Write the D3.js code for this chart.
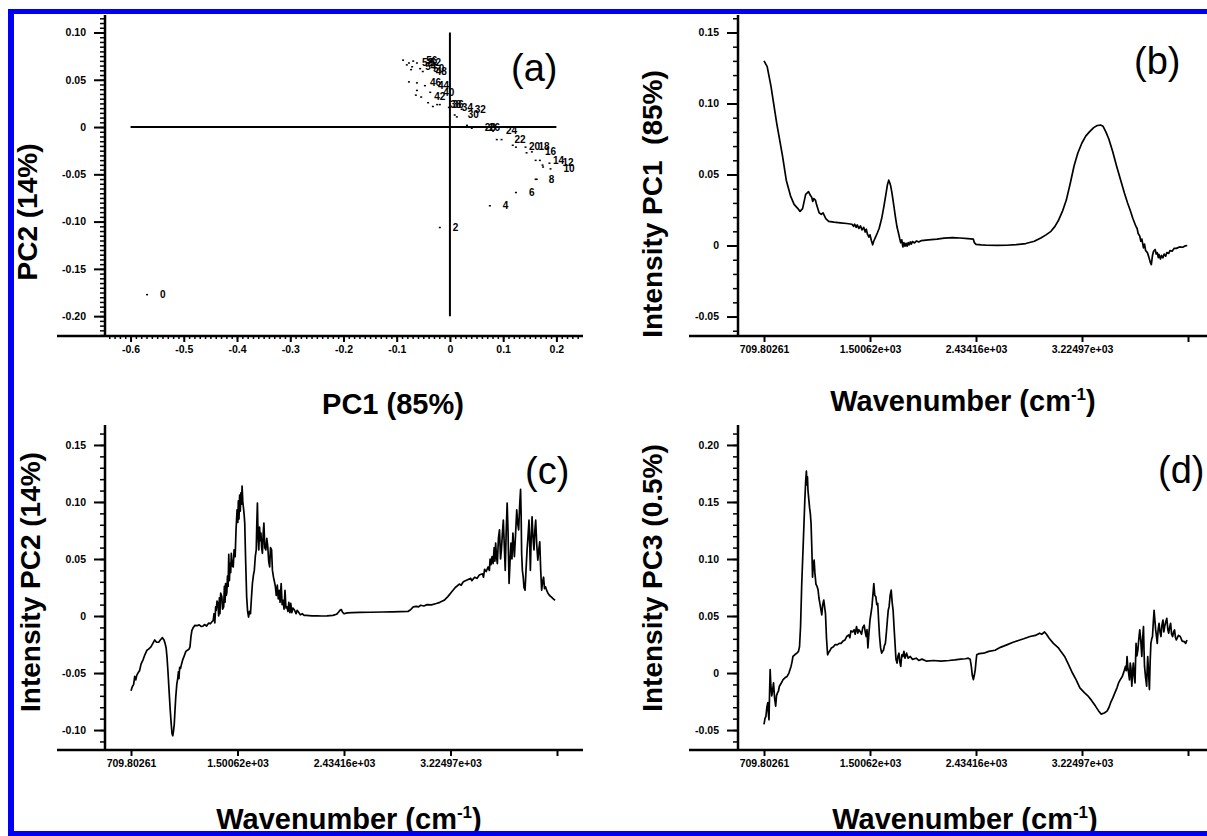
<!DOCTYPE html>
<html>
<head>
<meta charset="utf-8">
<script src="https://cdn.jsdelivr.net/npm/d3@7"></script>
<style>
body { margin: 0; background: #fff; }
text { font-family: "Liberation Sans", Arial, sans-serif; }
</style>
</head>
<body>
<div id="chart"></div>
<script>
// (a) PCA scores, labels only on the even samples
var scoreLabels = ["0","2","4","6","8","10","12","14","16","18","20","22","24","26","28","30","32","34","36","38","40","42","44","46","48","50","52","54","56","58",
  "","","","","","","","","","","","","","","","",""];
var pc1Scores = [-0.569,-0.019,0.075,0.124,0.161,0.189,0.187,0.169,0.154,0.142,0.124,0.097,0.081,0.049,0.041,0.009,0.022,-0.002,-0.019,-0.024,-0.037,-0.054,-0.047,-0.062,-0.051,-0.056,-0.062,-0.071,-0.069,-0.077,
  -0.088,-0.081,-0.073,-0.077,-0.062,-0.064,-0.041,-0.032,0.013,0.032,0.088,0.118,0.144,0.161,0.174,0.175,0.163];
var pc2Scores = [-0.177,-0.106,-0.083,-0.069,-0.055,-0.044,-0.038,-0.035,-0.026,-0.021,-0.021,-0.013,-0.004,0.000,-0.001,0.013,0.019,0.021,0.024,0.024,0.037,0.032,0.044,0.047,0.059,0.062,0.068,0.064,0.070,0.068,
  0.071,0.066,0.061,0.048,0.039,0.034,0.026,0.022,0.011,0.002,-0.013,-0.019,-0.027,-0.035,-0.040,-0.042,-0.055];

var waveTicks = ["709.80261", "1.50062e+03", "2.43416e+03", "3.22497e+03", ""];

// loadings: [position on the wavenumber axis (tick index), intensity]
var pc1Loadings = [[0,0.130],[0.03,0.126],[0.066,0.112],[0.12,0.086],[0.175,0.063],[0.21,0.046],[0.25,0.035],[0.284,0.029],[0.32,0.026],[0.34,0.024],[0.364,0.026],[0.393,0.036],[0.42,0.038],[0.44,0.035],[0.45,0.034],[0.46,0.031],[0.47,0.033],[0.485,0.032],[0.495,0.029],[0.52,0.023],[0.54,0.022],[0.557,0.023],[0.583,0.019],[0.61,0.017],[0.66,0.0165],[0.72,0.016],[0.78,0.0155],[0.83,0.0150],[0.845,0.0135],[0.855,0.0150],[0.87,0.0128],[0.88,0.0145],[0.895,0.0120],[0.91,0.0138],[0.925,0.0110],[0.94,0.0128],[0.955,0.0095],[0.965,0.0115],[0.976,0.0080],[0.99,0.0060],[1.0,0.0075],[1.013,0.0035],[1.025,0.0005],[1.035,0.0030],[1.05,0.0055],[1.07,0.009],[1.086,0.012],[1.11,0.019],[1.13,0.027],[1.15,0.036],[1.165,0.043],[1.177,0.046],[1.187,0.044],[1.195,0.042],[1.205,0.038],[1.213,0.034],[1.225,0.028],[1.24,0.020],[1.255,0.013],[1.268,0.009],[1.28,0.005],[1.29,0.002],[1.3,0.004],[1.31,-0.001],[1.32,0.002],[1.33,-0.0005],[1.34,0.0015],[1.35,-0.0005],[1.36,0.002],[1.37,0.0005],[1.38,0.0025],[1.39,0.001],[1.4,0.0028],[1.42,0.0018],[1.44,0.0032],[1.46,0.0025],[1.486,0.0035],[1.55,0.0040],[1.632,0.0045],[1.7,0.0052],[1.778,0.0055],[1.85,0.0053],[1.924,0.0048],[1.975,0.0045],[1.985,0.0020],[2.0,0.0008],[2.05,0.0004],[2.105,0.0002],[2.2,0.0001],[2.288,0.0002],[2.38,0.0006],[2.47,0.0014],[2.55,0.0030],[2.616,0.0055],[2.66,0.0075],[2.707,0.0100],[2.745,0.0135],[2.78,0.018],[2.815,0.024],[2.852,0.032],[2.89,0.044],[2.925,0.056],[2.96,0.065],[2.998,0.072],[3.035,0.077],[3.07,0.080],[3.11,0.083],[3.144,0.0845],[3.175,0.0848],[3.198,0.084],[3.225,0.080],[3.253,0.075],[3.29,0.066],[3.326,0.056],[3.365,0.046],[3.4,0.037],[3.43,0.030],[3.454,0.025],[3.48,0.019],[3.508,0.0136],[3.52,0.0120],[3.53,0.0085],[3.545,0.0066],[3.555,0.0030],[3.565,0.0045],[3.58,-0.0016],[3.59,0.0010],[3.6,-0.0035],[3.617,-0.005],[3.63,-0.0080],[3.645,-0.0120],[3.654,-0.0134],[3.665,-0.0070],[3.675,-0.0040],[3.69,-0.0028],[3.70,-0.0060],[3.71,-0.0050],[3.72,-0.0085],[3.727,-0.0063],[3.74,-0.0095],[3.75,-0.0070],[3.763,-0.0087],[3.775,-0.0060],[3.79,-0.0075],[3.8,-0.0050],[3.818,-0.0055],[3.83,-0.0035],[3.85,-0.0040],[3.87,-0.0020],[3.89,-0.0020],[3.92,-0.0010],[3.95,-0.0012],[3.975,-0.0002],[3.993,0.0]];

var pc2Loadings = [[0,-0.0656],[0.012,-0.062],[0.025,-0.060],[0.035,-0.053],[0.045,-0.056],[0.054,-0.052],[0.065,-0.050],[0.08,-0.048],[0.095,-0.042],[0.115,-0.038],[0.13,-0.034],[0.15,-0.030],[0.165,-0.029],[0.187,-0.027],[0.205,-0.024],[0.223,-0.021],[0.24,-0.023],[0.26,-0.023],[0.275,-0.021],[0.295,-0.019],[0.31,-0.021],[0.32,-0.024],[0.33,-0.028],[0.338,-0.036],[0.348,-0.050],[0.356,-0.063],[0.368,-0.082],[0.378,-0.095],[0.385,-0.103],[0.392,-0.105],[0.399,-0.101],[0.406,-0.095],[0.413,-0.083],[0.42,-0.0715],[0.43,-0.060],[0.44,-0.054],[0.445,-0.049],[0.45,-0.055],[0.457,-0.045],[0.465,-0.046],[0.475,-0.042],[0.487,-0.038],[0.5,-0.035],[0.515,-0.031],[0.53,-0.030],[0.545,-0.029],[0.554,-0.027],[0.563,-0.018],[0.572,-0.0126],[0.585,-0.010],[0.6,-0.0082],[0.62,-0.0085],[0.64,-0.0078],[0.66,-0.0092],[0.673,-0.009],[0.69,-0.0075],[0.71,-0.0088],[0.73,-0.0062],[0.745,-0.0068],[0.76,-0.0050],[0.772,-0.0038],[0.78,0.002],[0.787,-0.006],[0.795,0.008],[0.8,0.005],[0.808,0.013],[0.817,0.011],[0.823,0.000],[0.83,0.016],[0.835,0.002],[0.842,0.020],[0.853,0.017],[0.86,0.006],[0.87,0.008],[0.877,0.026],[0.883,0.012],[0.888,0.0285],[0.895,0.018],[0.9,0.021],[0.906,0.035],[0.912,0.026],[0.918,0.054],[0.924,0.031],[0.93,0.046],[0.936,0.038],[0.942,0.055],[0.95,0.044],[0.96,0.043],[0.968,0.058],[0.978,0.052],[0.986,0.075],[0.996,0.093],[1.003,0.082],[1.008,0.101],[1.014,0.085],[1.02,0.106],[1.026,0.092],[1.032,0.108],[1.038,0.098],[1.043,0.114],[1.05,0.100],[1.058,0.093],[1.063,0.088],[1.068,0.0815],[1.076,0.050],[1.086,0.0168],[1.095,0.004],[1.104,-0.0009],[1.113,0.004],[1.122,0.002],[1.131,0.016],[1.14,0.0285],[1.15,0.036],[1.158,0.040],[1.167,0.052],[1.176,0.058],[1.181,0.080],[1.187,0.099],[1.193,0.070],[1.2,0.058],[1.207,0.078],[1.214,0.066],[1.22,0.0726],[1.227,0.060],[1.234,0.055],[1.241,0.072],[1.248,0.0815],[1.256,0.060],[1.266,0.058],[1.275,0.068],[1.284,0.061],[1.293,0.048],[1.302,0.043],[1.31,0.060],[1.32,0.058],[1.328,0.040],[1.338,0.034],[1.347,0.030],[1.356,0.0256],[1.364,0.018],[1.374,0.027],[1.383,0.015],[1.392,0.0226],[1.4,0.012],[1.41,0.0285],[1.419,0.010],[1.428,0.0138],[1.437,0.006],[1.446,0.0226],[1.455,0.007],[1.464,0.008],[1.474,0.004],[1.482,0.012],[1.492,0.003],[1.5,0.011],[1.51,0.003],[1.52,0.007],[1.536,0.005],[1.55,0.002],[1.56,0.005],[1.572,0.0035],[1.59,0.001],[1.608,0.002],[1.625,0.0005],[1.644,0.0006],[1.7,0.0001],[1.75,0.0002],[1.788,0.0],[1.84,0.0002],[1.896,0.0006],[1.93,0.0015],[1.95,0.0035],[1.962,0.0050],[1.975,0.0056],[1.985,0.0035],[2.0,0.002],[2.03,0.0028],[2.076,0.003],[2.15,0.0032],[2.25,0.0033],[2.363,0.0035],[2.45,0.0037],[2.53,0.0038],[2.6,0.004],[2.625,0.0055],[2.65,0.008],[2.68,0.0085],[2.7,0.0080],[2.72,0.0094],[2.75,0.0088],[2.78,0.0100],[2.82,0.0098],[2.867,0.011],[2.9,0.0120],[2.94,0.0138],[2.975,0.017],[3.01,0.021],[3.045,0.025],[3.083,0.028],[3.1,0.027],[3.12,0.030],[3.155,0.0315],[3.19,0.033],[3.2,0.031],[3.227,0.034],[3.25,0.033],[3.27,0.036],[3.3,0.037],[3.31,0.034],[3.32,0.041],[3.335,0.039],[3.353,0.043],[3.365,0.040],[3.372,0.050],[3.38,0.045],[3.39,0.052],[3.4,0.046],[3.41,0.060],[3.417,0.048],[3.424,0.064],[3.432,0.052],[3.44,0.046],[3.45,0.068],[3.46,0.0756],[3.47,0.050],[3.478,0.058],[3.487,0.072],[3.496,0.084],[3.505,0.062],[3.514,0.040],[3.523,0.074],[3.532,0.099],[3.54,0.075],[3.55,0.0285],[3.558,0.046],[3.568,0.064],[3.577,0.050],[3.586,0.0726],[3.593,0.062],[3.6,0.052],[3.61,0.070],[3.622,0.093],[3.63,0.082],[3.64,0.0756],[3.65,0.098],[3.658,0.111],[3.663,0.090],[3.668,0.055],[3.675,0.040],[3.683,0.034],[3.69,0.025],[3.7,0.0226],[3.709,0.040],[3.719,0.058],[3.728,0.070],[3.737,0.084],[3.744,0.062],[3.75,0.040],[3.758,0.070],[3.766,0.087],[3.775,0.068],[3.784,0.058],[3.792,0.075],[3.8,0.084],[3.81,0.062],[3.82,0.049],[3.829,0.058],[3.838,0.065],[3.847,0.040],[3.856,0.0226],[3.865,0.030],[3.874,0.034],[3.883,0.024],[3.892,0.0256],[3.905,0.022],[3.917,0.0197],[3.93,0.018],[3.946,0.0168],[3.965,0.015],[3.982,0.0138]];

var pc3Loadings = [[0,-0.045],[0.009,-0.040],[0.018,-0.038],[0.027,-0.030],[0.036,-0.026],[0.042,-0.036],[0.047,-0.041],[0.052,-0.020],[0.058,0.003],[0.064,-0.010],[0.073,-0.020],[0.08,-0.016],[0.09,-0.0087],[0.1,-0.022],[0.11,-0.029],[0.118,-0.020],[0.127,-0.0174],[0.136,-0.016],[0.145,-0.0116],[0.162,-0.009],[0.18,-0.0058],[0.2,-0.004],[0.218,-0.003],[0.235,0.000],[0.255,0.0058],[0.265,0.010],[0.273,0.0145],[0.29,0.016],[0.31,0.0174],[0.325,0.019],[0.335,0.023],[0.345,0.041],[0.356,0.078],[0.37,0.113],[0.385,0.151],[0.393,0.168],[0.4,0.177],[0.405,0.165],[0.41,0.172],[0.415,0.160],[0.423,0.152],[0.43,0.145],[0.437,0.140],[0.444,0.131],[0.451,0.110],[0.458,0.084],[0.465,0.095],[0.473,0.099],[0.48,0.088],[0.49,0.078],[0.5,0.076],[0.51,0.073],[0.518,0.066],[0.527,0.061],[0.536,0.056],[0.545,0.051],[0.554,0.060],[0.564,0.064],[0.572,0.058],[0.58,0.052],[0.59,0.030],[0.6,0.016],[0.61,0.018],[0.618,0.019],[0.636,0.022],[0.655,0.023],[0.672,0.025],[0.69,0.0247],[0.71,0.026],[0.727,0.026],[0.745,0.028],[0.764,0.029],[0.78,0.032],[0.8,0.0334],[0.81,0.031],[0.82,0.037],[0.836,0.036],[0.85,0.038],[0.86,0.034],[0.873,0.0407],[0.885,0.035],[0.895,0.038],[0.91,0.036],[0.92,0.034],[0.932,0.040],[0.945,0.042],[0.955,0.036],[0.964,0.032],[0.972,0.038],[0.98,0.022],[0.99,0.035],[1.0,0.0465],[1.009,0.052],[1.018,0.058],[1.027,0.068],[1.036,0.0785],[1.045,0.068],[1.055,0.067],[1.064,0.060],[1.073,0.061],[1.082,0.045],[1.09,0.032],[1.1,0.022],[1.11,0.0174],[1.118,0.019],[1.127,0.020],[1.136,0.024],[1.145,0.026],[1.155,0.036],[1.164,0.0465],[1.172,0.055],[1.18,0.058],[1.19,0.068],[1.2,0.0727],[1.209,0.062],[1.218,0.055],[1.227,0.040],[1.236,0.026],[1.245,0.012],[1.255,0.0087],[1.264,0.015],[1.273,0.0174],[1.281,0.010],[1.29,0.0058],[1.3,0.016],[1.31,0.0145],[1.32,0.019],[1.33,0.013],[1.345,0.0174],[1.36,0.013],[1.38,0.0145],[1.4,0.012],[1.436,0.013],[1.46,0.011],[1.49,0.0122],[1.53,0.0105],[1.6,0.011],[1.67,0.0105],[1.745,0.011],[1.8,0.0115],[1.855,0.0122],[1.9,0.0125],[1.927,0.013],[1.945,0.012],[1.956,0.0058],[1.965,-0.002],[1.975,-0.0058],[1.984,-0.002],[1.993,0.003],[2.0,0.010],[2.007,0.016],[2.03,0.017],[2.073,0.0174],[2.12,0.019],[2.18,0.020],[2.23,0.0225],[2.29,0.0247],[2.35,0.027],[2.4,0.0285],[2.45,0.030],[2.51,0.032],[2.56,0.033],[2.6,0.0349],[2.62,0.034],[2.647,0.036],[2.665,0.034],[2.69,0.0305],[2.73,0.026],[2.78,0.0218],[2.8,0.019],[2.836,0.0145],[2.87,0.008],[2.91,0.0],[2.945,-0.006],[2.98,-0.013],[3.02,-0.017],[3.055,-0.020],[3.09,-0.024],[3.127,-0.029],[3.155,-0.033],[3.18,-0.036],[3.21,-0.035],[3.236,-0.0334],[3.255,-0.030],[3.27,-0.026],[3.29,-0.022],[3.31,-0.0174],[3.33,-0.013],[3.345,-0.0087],[3.36,-0.006],[3.38,-0.003],[3.395,0.001],[3.41,0.0058],[3.418,0.002],[3.425,0.0145],[3.433,0.004],[3.44,0.0],[3.448,-0.006],[3.455,0.0087],[3.462,0.004],[3.47,-0.0116],[3.477,0.000],[3.484,0.0087],[3.492,-0.002],[3.5,-0.0087],[3.505,0.010],[3.51,0.026],[3.518,0.015],[3.527,0.020],[3.536,0.030],[3.545,0.0378],[3.555,0.028],[3.564,0.0145],[3.572,0.030],[3.58,0.0407],[3.585,0.020],[3.59,0.0058],[3.6,-0.004],[3.61,-0.0116],[3.615,0.004],[3.62,0.0145],[3.628,0.000],[3.636,-0.0145],[3.643,0.010],[3.65,0.026],[3.658,0.030],[3.665,0.032],[3.673,0.045],[3.68,0.055],[3.688,0.046],[3.695,0.0378],[3.703,0.032],[3.71,0.026],[3.718,0.038],[3.727,0.0436],[3.736,0.036],[3.745,0.032],[3.754,0.042],[3.764,0.0465],[3.772,0.036],[3.78,0.0407],[3.79,0.045],[3.8,0.048],[3.81,0.038],[3.818,0.0349],[3.827,0.040],[3.836,0.0436],[3.845,0.034],[3.855,0.032],[3.864,0.036],[3.873,0.0378],[3.882,0.031],[3.89,0.029],[3.91,0.033],[3.927,0.032],[3.945,0.028],[3.964,0.0276],[3.978,0.026],[3.99,0.029]];

var width = 1207, height = 836;
var svg = d3.select("#chart").append("svg").attr("width", width).attr("height", height);

var tickFont = "10.5px";
function fmtTick(d, n) { return Math.abs(d) < 1e-9 ? "0" : d.toFixed(n); }
function range(a, b, s) { var out = []; for (var v = a; v <= b + s / 2; v += s) out.push(+v.toFixed(4)); return out; }

function styleAxis(g, w) {
  g.select(".domain").remove();
  g.selectAll("line").attr("stroke", "#000").attr("stroke-width", w);
  g.selectAll("text").attr("fill", "#000").style("font-size", tickFont).style("font-weight", "bold");
}

// frame of one panel: y axis, x axis line that runs past the y axis, minor ticks
function drawFrame(p, x, y, yMajor, yMinor, yDigits) {
  var g = svg.append("g");
  g.append("g").attr("transform", "translate(" + p.axisX + ",0)")
    .call(d3.axisLeft(y).tickValues(yMinor).tickSize(5).tickFormat(""))
    .call(styleAxis, 1.5);
  g.append("g").attr("transform", "translate(" + p.axisX + ",0)")
    .call(d3.axisLeft(y).tickValues(yMajor).tickSize(11).tickPadding(8).tickFormat(function(d) { return fmtTick(d, yDigits); }))
    .call(styleAxis, 2);
  g.append("line").attr("x1", p.axisX).attr("x2", p.axisX).attr("y1", p.top).attr("y2", p.axisY)
    .attr("stroke", "#000").attr("stroke-width", 2.5);
  g.append("line").attr("x1", p.lineStart).attr("x2", p.lineEnd).attr("y1", p.axisY).attr("y2", p.axisY)
    .attr("stroke", "#000").attr("stroke-width", 2.5);
  return g;
}

function axisTitles(p) {
  var t = svg.append("text").attr("x", p.xTitle[0]).attr("y", p.xTitle[1]).attr("text-anchor", "middle")
    .style("font-size", "29px").style("font-weight", "bold");
  if (p.wave) {
    t.append("tspan").text("Wavenumber (cm");
    t.append("tspan").attr("dy", -11).style("font-size", "17px").text("-1");
    t.append("tspan").attr("dy", 11).text(")");
  } else {
    t.text(p.xText);
  }
  svg.append("text").attr("transform", "translate(" + p.yTitle[0] + "," + p.yTitle[1] + ") rotate(-90)")
    .attr("text-anchor", "middle").style("font-size", "28px").style("font-weight", "bold")
    .style("white-space", "pre").text(p.yText);
  svg.append("text").attr("x", p.letter[0]).attr("y", p.letter[1])
    .style("font-size", "38px").text(p.letterText);
}

// ---- panel (a): score plot ----
var pa = { axisX: 105, axisY: 336, top: 15, lineStart: 57, lineEnd: 583,
  xTitle: [393, 414], xText: "PC1 (85%)", yTitle: [37, 212], yText: "PC2 (14%)",
  letter: [511, 81], letterText: "(a)" };
var xa = d3.scaleLinear().domain([-0.648, 0.25]).range([pa.axisX, pa.lineEnd]);
var ya = d3.scaleLinear().domain([-0.221, 0.1185]).range([pa.axisY, pa.top]);
var ga = drawFrame(pa, xa, ya, range(-0.2, 0.1, 0.05), range(-0.22, 0.115, 0.005), 2);
ga.append("g").attr("transform", "translate(0," + pa.axisY + ")")
  .call(d3.axisBottom(xa).tickValues(range(-0.64, 0.24, 0.01)).tickSize(3).tickFormat(""))
  .call(styleAxis, 1.5);
ga.append("g").attr("transform", "translate(0," + pa.axisY + ")")
  .call(d3.axisBottom(xa).tickValues(range(-0.6, 0.2, 0.1)).tickSize(6).tickPadding(4).tickFormat(function(d) { return fmtTick(d, 1); }))
  .call(styleAxis, 2);
// cross hairs through the origin
ga.append("line").attr("x1", xa(-0.6)).attr("x2", xa(0.2)).attr("y1", ya(0)).attr("y2", ya(0))
  .attr("stroke", "#000").attr("stroke-width", 2);
ga.append("line").attr("x1", xa(0)).attr("x2", xa(0)).attr("y1", ya(0.1)).attr("y2", ya(-0.2))
  .attr("stroke", "#000").attr("stroke-width", 2);
var pts = ga.selectAll(".pt").data(pc1Scores).enter().append("g").attr("class", "pt")
  .attr("transform", function(d, i) { return "translate(" + xa(pc1Scores[i]) + "," + ya(pc2Scores[i]) + ")"; });
pts.append("rect").attr("x", -1).attr("y", -0.5).attr("width", 2).attr("height", 1.5).attr("fill", "#000");
pts.append("text").attr("x", 13).attr("dy", "0.35em").style("font-size", "10px").style("font-weight", "bold")
  .text(function(d, i) { return scoreLabels[i]; });
axisTitles(pa);

// ---- panels (b), (c), (d): loadings ----
var spectra = [
  { data: pc1Loadings, axisX: 738, axisY: 336, top: 15, lineStart: 689, lineEnd: 1207, tick0: 764, tick4: 1188,
    yDomain: [-0.0637, 0.1623], yMajor: range(-0.05, 0.15, 0.05), yMinor: range(-0.06, 0.16, 0.01),
    wave: true, xTitle: [963, 411], yTitle: [662, 204], yText: "Intensity PC1  (85%)", letter: [1134, 74], letterText: "(b)" },
  { data: pc2Loadings, axisX: 105, axisY: 750, top: 425, lineStart: 57, lineEnd: 583, tick0: 131, tick4: 557,
    yDomain: [-0.1175, 0.1675], yMajor: range(-0.1, 0.15, 0.05), yMinor: range(-0.11, 0.16, 0.01),
    wave: true, xTitle: [349, 829], yTitle: [40, 582], yText: "Intensity PC2 (14%)", letter: [525, 484], letterText: "(c)" },
  { data: pc3Loadings, axisX: 738, axisY: 750, top: 425, lineStart: 689, lineEnd: 1207, tick0: 764, tick4: 1188,
    yDomain: [-0.0675, 0.2175], yMajor: range(-0.05, 0.2, 0.05), yMinor: range(-0.06, 0.21, 0.01),
    wave: true, xTitle: [965, 829], yTitle: [662, 578], yText: "Intensity PC3 (0.5%)", letter: [1158, 483], letterText: "(d)" }
];

spectra.forEach(function(p) {
  var x = d3.scaleLinear().domain([0, 4]).range([p.tick0, p.tick4]);
  var y = d3.scaleLinear().domain(p.yDomain).range([p.axisY, p.top]);
  var g = drawFrame(p, x, y, p.yMajor, p.yMinor, 2);
  g.append("g").attr("transform", "translate(0," + p.axisY + ")")
    .call(d3.axisBottom(x).tickValues([0, 1, 2, 3, 4]).tickSize(6).tickPadding(4)
      .tickFormat(function(d, i) { return waveTicks[i]; }))
    .call(styleAxis, 2);
  var line = d3.line().x(function(d) { return x(d[0]); }).y(function(d) { return y(d[1]); });
  g.append("path").datum(p.data).attr("d", line)
    .attr("fill", "none").attr("stroke", "#000").attr("stroke-width", 1.7).attr("stroke-linejoin", "round");
  axisTitles(p);
});

// blue frame round the figure (open on the right)
var blue = "#0000f5";
svg.append("rect").attr("x", 8).attr("y", 9).attr("width", width - 8).attr("height", 5).attr("fill", blue);
svg.append("rect").attr("x", 8).attr("y", 9).attr("width", 6).attr("height", height - 9).attr("fill", blue);
svg.append("rect").attr("x", 8).attr("y", 831).attr("width", width - 8).attr("height", 5).attr("fill", blue);
</script>
</body>
</html>
